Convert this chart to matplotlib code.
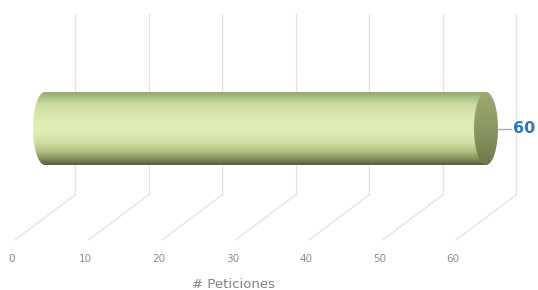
import numpy as np
import matplotlib
matplotlib.use("Agg")
import matplotlib.pyplot as plt
from matplotlib.path import Path
from matplotlib.patches import PathPatch, Ellipse
from matplotlib.colors import LinearSegmentedColormap

# data
values = [60]
ticks = [0, 10, 20, 30, 40, 50, 60]
tick_labels = ["0", "10", "20", "30", "40", "50", "60"]
axis_title = "# Peticiones"

# layout (px-like y units, x in data units)
PX_PER_UNIT = 7.35
X0_PX = 75
DEPTH_DX = -60 / PX_PER_UNIT  # oblique shift from back to front plane
Y_TOP, Y_BACK, Y_FRONT, Y_LABEL = 14, 195, 240, 259
CYL_TOP, CYL_BOT = 92, 165
CAP_W = 24 / PX_PER_UNIT

fig = plt.figure(figsize=(5.38, 2.90), dpi=100)
ax = fig.add_axes([0, 0, 1, 1])
ax.set_xlim(-X0_PX / PX_PER_UNIT, (538 - X0_PX) / PX_PER_UNIT)
ax.set_ylim(290, 0)
ax.axis("off")

grid_c = "#e2e2e2"
for t, lab in zip(ticks, tick_labels):
    ax.plot([t, t], [Y_TOP, Y_BACK], color=grid_c, lw=0.9, zorder=1)
    ax.plot([t, t + DEPTH_DX], [Y_BACK, Y_FRONT], color=grid_c, lw=0.9, zorder=1)
    ax.text(t + DEPTH_DX - 0.4, Y_LABEL, lab, ha="center", va="center",
            fontsize=7.5, color="#8c8c8c")

ax.text(21.6, 284, axis_title, ha="center", va="center", fontsize=9.5, color="#7f7f7f")

# cylinder body at mid depth
mid = DEPTH_DX / 2
yc = (CYL_TOP + CYL_BOT) / 2
h = CYL_BOT - CYL_TOP
v = values[0]
left, right = 0 + mid, v + mid

ang = np.linspace(np.pi / 2, 3 * np.pi / 2, 60)
ex = left + CAP_W / 2 * np.cos(ang)
ey = yc - h / 2 * np.sin(ang)
verts = list(zip(ex, ey)) + [(right, CYL_BOT), (right, CYL_TOP), (ex[0], ey[0])]
codes = [Path.MOVETO] + [Path.LINETO] * (len(verts) - 2) + [Path.CLOSEPOLY]
body = PathPatch(Path(verts, codes), facecolor="none", edgecolor="none",
                 transform=ax.transData)
ax.add_patch(body)

body_cmap = LinearSegmentedColormap.from_list("body", [
    (0.0, "#97aa70"), (0.08, "#aec287"), (0.16, "#c9db9c"), (0.35, "#dceab2"),
    (0.55, "#dfecb6"), (0.70, "#cddd9f"), (0.82, "#adbf80"), (0.92, "#7f8d58"),
    (1.0, "#555e3a")])
grad = np.linspace(0, 1, 200).reshape(-1, 1)
im = ax.imshow(grad, cmap=body_cmap, aspect="auto", origin="upper",
               extent=(left - CAP_W, right, CYL_BOT, CYL_TOP), zorder=2,
               interpolation="bilinear")
im.set_clip_path(body)

# end cap
cap_cmap = LinearSegmentedColormap.from_list("cap", [
    (0.0, "#9aaa70"), (0.5, "#899861"), (1.0, "#6c7a4a")])
cap = Ellipse((right, yc), CAP_W, h, facecolor="none", edgecolor="none",
              transform=ax.transData)
ax.add_patch(cap)
im2 = ax.imshow(grad, cmap=cap_cmap, aspect="auto", origin="upper",
                extent=(right - CAP_W, right + CAP_W, CYL_BOT, CYL_TOP), zorder=3,
                interpolation="bilinear")
im2.set_clip_path(cap)

# data label with leader
ax.plot([right + CAP_W * 0.45, right + 3.4], [yc, yc], color="#a6a6a6", lw=0.9, zorder=4)
ax.text(right + 3.7, yc, str(v), ha="left", va="center", fontsize=11.5,
        fontweight="bold", color="#2f75b5")

fig.savefig("out.png", dpi=100)
